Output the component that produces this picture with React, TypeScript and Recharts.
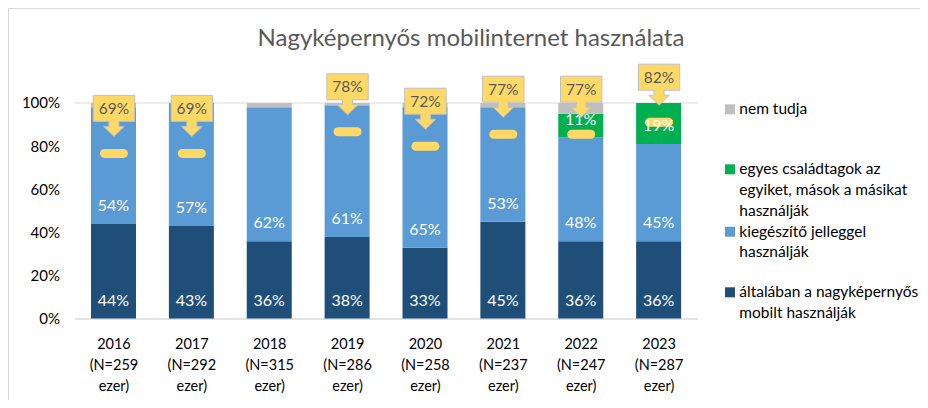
import React from 'react';
import { ComposedChart, Bar, Line, XAxis, YAxis, CartesianGrid, LabelList } from 'recharts';

const years = ['2016', '2017', '2018', '2019', '2020', '2021', '2022', '2023'];
const sampleLabels = ['(N=259', '(N=292', '(N=315', '(N=286', '(N=258', '(N=237', '(N=247', '(N=287'];
const general = [44, 43, 36, 38, 33, 45, 36, 36];
const supplementary = [54, 57, 62, 61, 65, 53, 48, 45];
const mixed = [0, 0, 0, 0, 0, 0, 11, 19];
const unknown = [2, 0, 2, 1, 2, 2, 5, 0];
const calloutPct: (number | null)[] = [69, 69, null, 78, 72, 77, 77, 82];
const yTicks = [0, 20, 40, 60, 80, 100];

const legendItems = [
  { color: '#BFBFBF', lines: ['nem tudja'] },
  { color: '#00B050', lines: ['egyes családtagok az', 'egyiket, mások a másikat', 'használják'] },
  { color: '#5B9BD5', lines: ['kiegészítő jelleggel', 'használják'] },
  { color: '#1F4E79', lines: ['általában a nagyképernyős', 'mobilt használják'] },
];

const data = years.map((y, i) => ({
  year: y,
  sample: sampleLabels[i],
  general: general[i],
  supplementary: supplementary[i],
  mixed: mixed[i],
  unknown: unknown[i],
  callout: calloutPct[i],
}));

const FONT = 'Lato, "Open Sans", sans-serif';
const YELLOW = '#FFD966';

const XTick = (props: any) => {
  const { x, y, payload, index } = props;
  return (
    <g transform={`translate(${x},${y})`}>
      <text textAnchor="middle" fontSize={14.5} fill="#000" fontFamily={FONT}>
        <tspan x={0} y={27.5}>{payload.value}</tspan>
        <tspan x={0} y={48.5}>{sampleLabels[index]}</tspan>
        <tspan x={0} y={69.5}>ezer)</tspan>
      </text>
    </g>
  );
};

const makeBaseLabel = (key: string) => (props: any) => {
  const { x, y, width, height, value, index } = props;
  if (!value) return null;
  let offset = 18.5;
  if (key === 'mixed' && index === 7) offset = 8.5;
  return (
    <text
      x={x + width / 2}
      y={y + height - offset}
      dy="0.35em"
      textAnchor="middle"
      fontSize={16}
      fill="#fff"
      fontFamily={FONT}
    >
      {value}%
    </text>
  );
};

const DashDot = (props: any) => {
  const { cx, cy, payload } = props;
  if (payload.callout == null || cx == null || cy == null) return null;
  return <rect x={cx - 14} y={cy - 4.5} width={28} height={9} rx={4.5} fill={YELLOW} />;
};

const CalloutLabel = (props: any) => {
  const { x, y, value } = props;
  if (value == null || x == null || y == null) return null;
  const L = x - 20.7;
  const R = x + 20.7;
  const top = y - 58;
  const bottom = y - 32;
  const d = `M${L},${top} H${R} V${bottom} H${x + 5} V${y - 27} H${x + 10.3} L${x},${y - 17} L${x - 10.3},${y - 27} H${x - 5} V${bottom} H${L} Z`;
  return (
    <g>
      <path d={d} fill={YELLOW} stroke="#BFBFBF" strokeWidth={1} />
      <text x={x} y={y - 45} dy="0.35em" textAnchor="middle" fontSize={15.5} fill="#595959" fontFamily={FONT}>
        {value}%
      </text>
    </g>
  );
};

const legendTop = [114.3 - 9, 174.3 - 9, 236.7 - 9, 297.3 - 9];

export default function App() {
  return (
    <div
      style={{
        position: 'relative',
        width: 912,
        height: 392,
        borderTop: '1px solid #D9D9D9',
        borderLeft: '1px solid #D9D9D9',
        boxSizing: 'border-box',
        background: '#fff',
        fontFamily: FONT,
      }}
    >
      <ComposedChart
        width={911}
        height={391}
        data={data}
        margin={{ top: 94, right: 222, bottom: 11, left: 8 }}
      >
        <CartesianGrid vertical={false} stroke="#D9D9D9" />
        <XAxis
          dataKey="year"
          axisLine={{ stroke: '#D9D9D9' }}
          tickLine={false}
          tickSize={0}
          height={70}
          interval={0}
          tick={<XTick />}
        />
        <YAxis
          yAxisId="left"
          domain={[0, 100]}
          ticks={yTicks}
          tickFormatter={(v: number) => `${v}%`}
          axisLine={false}
          tickLine={false}
          tickSize={0}
          tickMargin={15}
          width={58}
          tick={{ fontSize: 15, fill: '#000', fontFamily: FONT }}
        />
        <YAxis yAxisId="right" orientation="right" domain={[0, 90]} hide />
        <Bar yAxisId="left" dataKey="general" stackId="s" fill="#1F4E79" barSize={45} isAnimationActive={false}>
          <LabelList dataKey="general" content={makeBaseLabel('general')} />
        </Bar>
        <Bar yAxisId="left" dataKey="supplementary" stackId="s" fill="#5B9BD5" barSize={45} isAnimationActive={false}>
          <LabelList dataKey="supplementary" content={makeBaseLabel('supplementary')} />
        </Bar>
        <Bar yAxisId="left" dataKey="mixed" stackId="s" fill="#00B050" barSize={45} isAnimationActive={false}>
          <LabelList dataKey="mixed" content={makeBaseLabel('mixed')} />
        </Bar>
        <Bar yAxisId="left" dataKey="unknown" stackId="s" fill="#BFBFBF" barSize={45} isAnimationActive={false} />
        <Line
          yAxisId="right"
          dataKey="callout"
          stroke="none"
          dot={<DashDot />}
          activeDot={false}
          label={<CalloutLabel />}
          isAnimationActive={false}
          connectNulls={false}
        />
      </ComposedChart>
      <svg
        width={911}
        height={391}
        style={{ position: 'absolute', left: 0, top: 0, pointerEvents: 'none', overflow: 'visible' }}
      >
        <text x={462} y={37} textAnchor="middle" fontSize={24} fill="#595959" fontFamily={FONT}>
          Nagyképernyős mobilinternet használata
        </text>
        {legendItems.map((item, i) => (
          <g key={i}>
            <rect x={716} y={legendTop[i] - 10} width={10} height={10} fill={item.color} />
            <text fontSize={15.5} fill="#000" fontFamily={FONT}>
              {item.lines.map((ln, j) => (
                <tspan key={j} x={730.3} y={legendTop[i] + j * 20.7}>
                  {ln}
                </tspan>
              ))}
            </text>
          </g>
        ))}
      </svg>
    </div>
  );
}
